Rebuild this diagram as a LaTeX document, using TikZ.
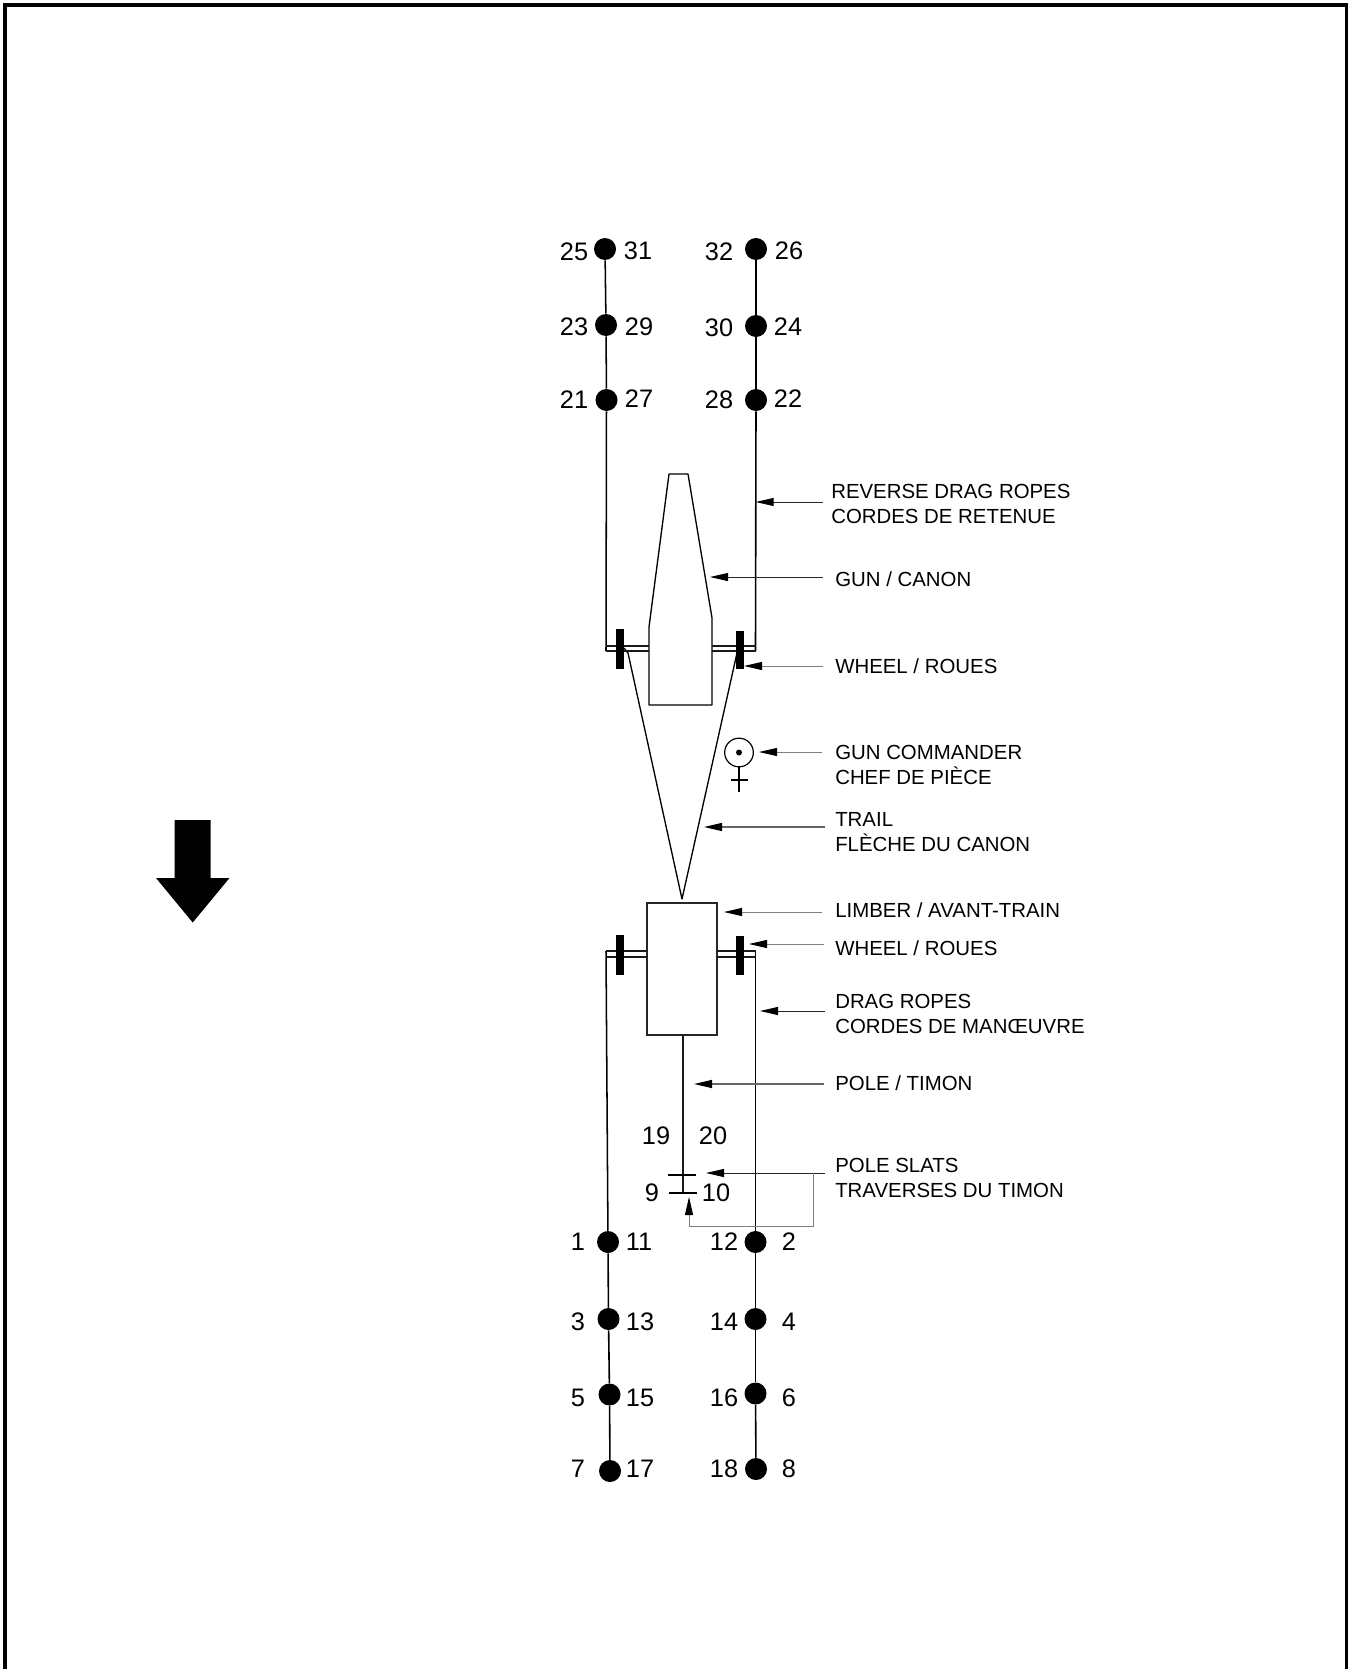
\documentclass[tikz,border=0pt]{standalone}
\usepackage{fontspec}
\setmainfont{Liberation Sans}
\usetikzlibrary{arrows.meta}
\tikzset{
  ptdot/.style={circle,fill=black,draw=none,minimum size=16.5pt,inner sep=0pt},
  num/.style={inner sep=0pt,font=\fontsize{19}{20}\selectfont,text=black},
  lab/.style={inner sep=0pt,anchor=west,align=left,font=\fontsize{15.3}{19}\selectfont,text=black},
  ropeL/.style={line width=1.15pt,black},
  ropeR/.style={line width=1.2pt,black},
  part/.style={line width=1pt,black},
  thinpart/.style={line width=0.85pt,black!90},
  wheelbar/.style={fill=black,draw=none},
  ldr/.style={line width=0.7pt,fill=none,-{Triangle[length=13.5pt,width=6pt,color=black,fill=black]}},
  ldrA/.style={ldr,draw=black!85},
  ldrB/.style={ldr,draw=black!50},
  ldrC/.style={ldr,line width=1pt,draw=black!60}
}
\begin{document}
\begin{tikzpicture}[x=0.75pt,y=-0.75pt]
\useasboundingbox (0,0) rectangle (1348,1669);
\fill[white] (0,0) rectangle (1348,1669);
% frame
\fill[black] (3,3) rectangle (1348,7);
\fill[black] (3,3) rectangle (7,1669);
\fill[black] (1345,3) rectangle (1348,1669);
% direction arrow
\fill[black] (174.7,820) -- (210.7,820) -- (210.7,878) -- (229.5,878) -- (192.7,922.5) -- (156,878) -- (174.7,878) -- cycle;

% dots
\foreach \n/\x/\y in {25/605/249,23/606/325,21/606.5/400,26/756/249,24/756/326,22/756/400,
  1/608/1242,3/608.5/1319,5/609.5/1394.5,7/610/1471,2/755.5/1242,4/755.5/1319,6/755.5/1393.5,8/756/1469}
  \node[ptdot] (d\n) at (\x,\y) {};
% numbers
\foreach \n/\x/\y in {25/574/251.5,31/638/251,32/719/252,26/789/251,
  23/574/327,29/639/327,30/719/327.5,24/788/327,
  21/574/399.5,27/639/399,28/719/400,22/788/399,
  19/656/1136,20/713/1136,9/652/1193,10/716/1193,
  1/578/1242,11/639/1242,12/724/1241.5,2/789/1241.5,
  3/578/1321.5,13/640/1321.5,14/724/1321.5,4/789/1321.5,
  5/578/1397.5,15/640/1397.5,16/724/1397.5,6/789/1397.5,
  7/578/1469,17/640/1469,18/724/1469,8/789/1469}
  \node[num] (n\n) at (\x,\y) {\n};

% corner coordinates
\coordinate (ua1) at (606,646); \coordinate (ua2) at (606,651);
\coordinate (ub1) at (755.5,646); \coordinate (ub2) at (755.5,651);
\coordinate (la1) at (606,951); \coordinate (la2) at (606,957);
\coordinate (lb1) at (755.5,951); \coordinate (lb2) at (755.5,957);
\coordinate (apex) at (682,899);

% ropes
\draw[ropeL] (d25) -- (d23);
\draw[ropeL] (d23) -- (d21);
\draw[ropeL] (d21) -- (ua2);
\draw[ropeR] (d26) -- (d24);
\draw[ropeR] (d24) -- (d22);
\draw[ropeR] (d22) -- (ub2);
\draw[ropeL] (la1) -- (d1);
\draw[ropeR] (d1) -- (d3);
\draw[ropeR] (d3) -- (d5);
\draw[ropeR] (d5) -- (d7);
\draw[ropeR] (lb1) -- (d2);
\draw[ropeR] (d2) -- (d4);
\draw[ropeR] (d4) -- (d6);
\draw[ropeR] (d6) -- (d8);

% gun
\draw[part,line join=round] (669,474) -- (688,474) -- (712,618) -- (712,705) -- (649,705) -- (649,627) -- cycle;
% upper axle
\draw[thinpart] (ua1) -- (649,646);
\draw[thinpart] (ua2) -- (649,651);
\draw[thinpart] (712,646) -- (ub1);
\draw[thinpart] (712,651) -- (ub2);
% upper wheels
\fill[wheelbar] (616,629) rectangle (624,669);
\fill[wheelbar] (736,631) rectangle (744,669);
% trail
\draw[part,line join=round] (624,648) -- (628,653) -- (apex) -- (737,653);

% gun commander
\node[circle,draw=black,line width=0.9pt,minimum size=21.5pt,inner sep=0pt] (gc) at (739,752.5) {};
\fill[black] (gc.center) circle[radius=3];
\coordinate (gcfoot) at (739,792);
\draw[thinpart,black] (gc.south) -- (gcfoot);
\draw[thinpart,black] (731,780) -- (748,780);

% limber
\node[draw=black!85,line width=1.1pt,fill=white,minimum width=52.5pt,minimum height=99pt,inner sep=0pt] (limber) at (682,969) {};
% lower axle
\draw[thinpart] (la1) -- (647,951);
\draw[thinpart] (la2) -- (647,957);
\draw[thinpart] (717,951) -- (lb1);
\draw[thinpart] (717,957) -- (lb2);
\fill[wheelbar] (616,935) rectangle (624,975);
\fill[wheelbar] (736,936) rectangle (744,975);

% pole
\coordinate (polefoot) at (683,1193);
\draw[ropeL,black!90] (683,1035) -- (polefoot);
\draw[thinpart,black] (668,1175) -- (696,1175);
\draw[thinpart,black] (669,1193) -- (697,1193);

% labels
\node[lab] (lrev) at (831,504) {REVERSE DRAG ROPES\\CORDES DE RETENUE};
\node[lab] (lgun) at (835,579.5) {GUN / CANON};
\node[lab] (lwh1) at (835,666) {WHEEL / ROUES};
\node[lab] (lgc) at (835,765) {GUN COMMANDER\\CHEF DE PIÈCE};
\node[lab] (ltr) at (835,832) {TRAIL\\FLÈCHE DU CANON};
\node[lab] (llim) at (835,910.5) {LIMBER / AVANT-TRAIN};
\node[lab] (lwh2) at (835,948) {WHEEL / ROUES};
\node[lab] (ldrg) at (835,1014) {DRAG ROPES\\CORDES DE MANŒUVRE};
\node[lab] (lpol) at (835,1083) {POLE / TIMON};
\node[lab] (lsl) at (835,1178) {POLE SLATS\\TRAVERSES DU TIMON};

% leader ends
\foreach \nm/\tx/\hx/\y in {rev/823/755.7/502,gun/823/710/577,whA/823/744/666,gc/822/759/752,tr/825/704/827,
  lim/822/724/912,whB/824/749/944,drg/825/760/1011,pol/824/694/1084,sl/825/706/1173}{
  \coordinate (t\nm) at (\tx,\y);
  \coordinate (h\nm) at (\hx,\y);
}
\draw[ldrA] (trev) -- (hrev);
\draw[ldrA] (tgun) -- (hgun);
\draw[ldrB] (twhA) -- (hwhA);
\draw[ldrB] (tgc) -- (hgc);
\draw[ldrC] (ttr) -- (htr);
\draw[ldrB] (tlim) -- (hlim);
\draw[ldrB] (twhB) -- (hwhB);
\draw[ldrA] (tdrg) -- (hdrg);
\draw[ldrC] (tpol) -- (hpol);
\draw[ldrA] (tsl) -- (hsl);
% branch
\coordinate (bra) at (813,1173);
\coordinate (brb) at (813,1226);
\coordinate (brc) at (689,1226);
\coordinate (brd) at (689,1197);
\draw[ldrB,line width=0.6pt] (bra) -- (brb) -- (brc) -- (brd);
\end{tikzpicture}
\end{document}
